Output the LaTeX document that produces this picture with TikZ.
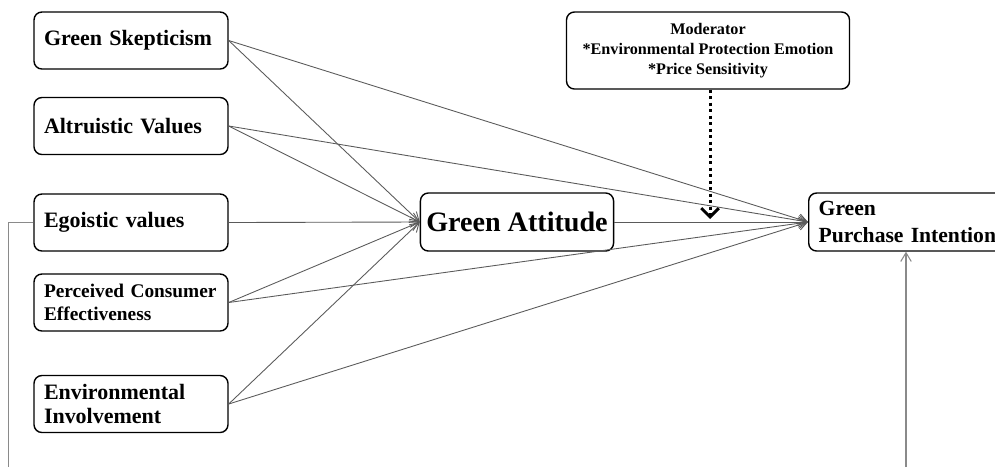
\documentclass[tikz,border=0pt]{standalone}
\usepackage{fontspec}
\setmainfont{Liberation Serif}
\usepackage{xcolor}
\usepackage{tikz}
\usetikzlibrary{arrows.meta, positioning}
\definecolor{linegray}{HTML}{5A5A5A}
\definecolor{pathgray}{HTML}{8A8A8A}

\begin{document}
\begin{tikzpicture}[
    var/.style={draw, line width=0.8pt, rounded corners=4.5pt, minimum height=1.14cm,
                text width=3.48cm, inner xsep=0.2cm, align=left, font=\bfseries\fontsize{12.5}{15}\selectfont},
    core/.style={draw, line width=0.8pt, rounded corners=4.5pt, minimum width=3.84cm,
                 minimum height=1.16cm, align=center, font=\bfseries\fontsize{16}{19}\selectfont},
    arrow/.style={-{Straight Barb[length=5pt, width=6pt]}, line width=0.5pt, linegray},
    modarrow/.style={-{Straight Barb[length=5pt, width=10pt]}, line width=1.7pt, dotted}
  ]
    \useasboundingbox (0,0) rectangle (19.9,-9.34);
    \clip (0,0) rectangle (19.9,-9.34);

    % predictors
    \node[var] (gs) at (2.62,-0.81) {Green Skepticism};
    \node[var] (av) at (2.62,-2.52) {Altruistic Values};
    \node[var] (ev) at (2.62,-4.45) {Egoistic values};
    \node[var, font=\bfseries\fontsize{11}{13}\selectfont] (pce) at (2.62,-6.05)
      {Perceived Consumer\\Effectiveness};
    \node[var, font=\bfseries\fontsize{12.5}{14}\selectfont] (ei) at (2.62,-8.08)
      {Environmental\\Involvement};

    % mediator, outcome, moderator
    \node[core] (ga) at (10.34,-4.44) {Green Attitude};
    \node[var, anchor=west, text width=4.4cm, minimum height=1.16cm,
          font=\bfseries\fontsize{12.3}{15.3}\selectfont] (gpi) at (16.16,-4.44)
      {Green\\Purchase Intention};
    \node[draw, line width=0.8pt, rounded corners=4.5pt, minimum width=5.66cm, minimum height=1.54cm,
          align=center, font=\bfseries\fontsize{9.2}{11.4}\selectfont] (mod) at (14.16,-1.01)
      {Moderator\\*Environmental Protection Emotion\\*Price Sensitivity};

    \coordinate (modtip) at (14.2,-4.38);
    \coordinate (egoend) at (0.17,-9.34);
    \coordinate (gpifoot) at (18.12,-9.34);

    \foreach \src in {gs,av,ev,pce,ei}
      \draw[arrow] (\src.east) -- (ga.west);
    \foreach \src in {gs,av,pce,ei}
      \draw[arrow] (\src.east) -- (gpi.west);
    \draw[arrow] (ga.east) -- (gpi.west);

    \draw[modarrow] (mod.south -| modtip) -- (modtip);

    \draw[line width=0.6pt, pathgray] (ev.west) -| (egoend);
    \draw[arrow, line width=0.6pt, pathgray] (gpifoot) -- (gpifoot |- gpi.south);
  \end{tikzpicture}
\end{document}
